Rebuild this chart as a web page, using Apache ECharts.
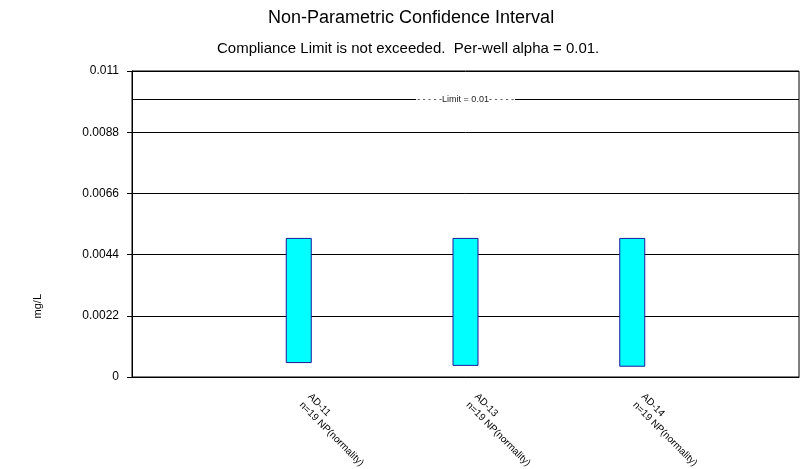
<!DOCTYPE html>
<html>
<head>
<meta charset="utf-8">
<script src="https://cdn.jsdelivr.net/npm/echarts@6/dist/echarts.min.js"></script>
<style>html,body{margin:0;padding:0;background:#fff;}#c{width:810px;height:469px;}</style>
</head>
<body>
<div id="c"></div>
<script>
var categories = ['', 'AD-11\nn=19 NP(normality)', 'AD-13\nn=19 NP(normality)', 'AD-14\nn=19 NP(normality)', ''];
var lowerLimits = [null, 0.0005, 0.0004, 0.00037, null];
var upperLimits = [null, 0.005, 0.005, 0.005, null];
var complianceLimit = 0.01;
var yTicks = [0, 0.0022, 0.0044, 0.0066, 0.0088, 0.011];

var FONT = 'Liberation Sans, Arial, sans-serif';
var spans = upperLimits.map(function (u, i) { return u == null ? null : u - lowerLimits[i]; });

var chart = echarts.init(document.getElementById('c'));
chart.setOption({
  animation: false,
  backgroundColor: '#fff',
  textStyle: { fontFamily: FONT },
  title: [
    { text: 'Non-Parametric Confidence Interval', left: 263, top: 4,
      textStyle: { fontSize: 18, fontWeight: 'normal', color: '#000', fontFamily: FONT } },
    { text: 'Compliance Limit is not exceeded.  Per-well alpha = 0.01.', left: 212, top: 36,
      textStyle: { fontSize: 15, fontWeight: 'normal', color: '#000', fontFamily: FONT } }
  ],
  graphic: [{
    type: 'text', left: 32, top: 294, rotation: Math.PI / 2,
    style: { text: 'mg/L', fontSize: 11, fill: '#000', fontFamily: FONT }
  }],
  grid: { left: 132, right: 11, top: 71, bottom: 92, show: true, borderColor: '#000', borderWidth: 1,
    containLabel: false, outerBoundsMode: 'none' },
  xAxis: {
    type: 'category', data: categories, boundaryGap: false,
    axisLine: { lineStyle: { color: '#000', width: 1 } },
    axisTick: { show: false },
    axisLabel: { rotate: -45, fontSize: 10, color: '#000', margin: 16, interval: 0, lineHeight: 12, align: 'left',
      padding: [0, 0, 0, 9], fontFamily: FONT },
    splitLine: { show: false }
  },
  yAxis: {
    type: 'value', min: yTicks[0], max: yTicks[yTicks.length - 1], interval: yTicks[1] - yTicks[0],
    axisLine: { show: true, lineStyle: { color: '#000', width: 1 } },
    axisTick: { show: true, length: 5, lineStyle: { color: '#000' } },
    axisLabel: { fontSize: 12, color: '#000', margin: 13, fontFamily: FONT,
      formatter: function (v) { return String(parseFloat(v.toPrecision(6))); } },
    splitLine: { show: true, lineStyle: { color: '#000', width: 1 } }
  },
  series: [
    { type: 'bar', stack: 'ci', data: lowerLimits, barWidth: 26, silent: true,
      itemStyle: { color: 'rgba(0,0,0,0)' },
      markLine: {
        symbol: 'none', silent: true,
        lineStyle: { color: '#000', width: 1, type: 'solid' },
        label: { show: true, position: 'middle', formatter: '‐ ‐ ‐ ‐ ‐Limit = 0.01‐ ‐ ‐ ‐ ‐', fontSize: 9, color: '#222',
          backgroundColor: '#fff', padding: [0, 1], distance: -5, fontFamily: FONT },
        data: [{ yAxis: complianceLimit }]
      }
    },
    { type: 'bar', stack: 'ci', data: spans, barWidth: 26,
      itemStyle: { color: '#00FFFF', borderColor: '#1a1a9a', borderWidth: 1 } }
  ]
});
</script>
</body>
</html>
